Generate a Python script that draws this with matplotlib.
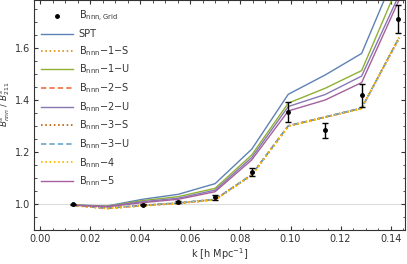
import numpy as np
import matplotlib
matplotlib.use("Agg")
import matplotlib.pyplot as plt
from matplotlib.ticker import MultipleLocator
from matplotlib.lines import Line2D

# k bins used for the model curves
k_lines = [0.0133, 0.0266, 0.0410, 0.0552, 0.0699, 0.0845, 0.0991, 0.1138, 0.1284, 0.1434]

# model ratios B^s_nnn / B^s_211
spt = [0.996, 0.992, 1.018, 1.037, 1.078, 1.210, 1.421, 1.495, 1.578, 1.920]
b1u = [0.996, 0.991, 1.013, 1.028, 1.060, 1.188, 1.387, 1.444, 1.512, 1.850]
b2u = [0.996, 0.990, 1.009, 1.022, 1.053, 1.178, 1.374, 1.420, 1.491, 1.804]
b5 = [0.995, 0.989, 1.005, 1.018, 1.047, 1.169, 1.357, 1.399, 1.466, 1.785]
b1s = [0.995, 0.983, 0.994, 1.003, 1.017, 1.111, 1.299, 1.333, 1.367, 1.638]
b2s = [0.995, 0.983, 0.994, 1.003, 1.017, 1.112, 1.300, 1.333, 1.368, 1.639]
b3s = [0.995, 0.983, 0.994, 1.003, 1.017, 1.111, 1.299, 1.333, 1.367, 1.638]
b3u = [0.995, 0.984, 0.995, 1.004, 1.018, 1.112, 1.300, 1.334, 1.368, 1.640]
b4 = [0.995, 0.983, 0.993, 1.002, 1.016, 1.110, 1.298, 1.332, 1.366, 1.637]

# grid measurement with error bars
k_grid = [0.0133, 0.0410, 0.0552, 0.0699, 0.0845, 0.0991, 0.1138, 0.1284, 0.1428]
grid_val = [0.998, 0.997, 1.007, 1.026, 1.122, 1.353, 1.283, 1.417, 1.710]
grid_err = [0.002, 0.002, 0.003, 0.009, 0.015, 0.040, 0.028, 0.044, 0.055]

plt.rcParams["font.family"] = "DejaVu Sans"
plt.rcParams["mathtext.fontset"] = "dejavusans"

fig = plt.figure(figsize=(4.07, 2.64), dpi=100)
ax = fig.add_axes([34 / 407, 34 / 264, 371 / 407, 230 / 264])

ax.axhline(1.0, color="#dddddd", lw=0.8, zorder=0)

dot = (0, (0.8, 1.4))
dash = (0, (3.5, 2))
lw = 1.0
ax.errorbar(k_grid, grid_val, yerr=grid_err, fmt="o", ms=2.5, color="black",
            ecolor="black", elinewidth=1.0, capsize=2, capthick=1.0, zorder=5)
ax.plot(k_lines, spt, color="#5E81B5", lw=lw, label="SPT")
ax.plot(k_lines, b1s, color="#E19C24", lw=1.4, ls=dot, label=r"B$_{\rm nnn}$−1−S")
ax.plot(k_lines, b1u, color="#8FB032", lw=lw, label=r"B$_{\rm nnn}$−1−U")
ax.plot(k_lines, b2s, color="#EB6235", lw=1.1, ls=dash, label=r"B$_{\rm nnn}$−2−S")
ax.plot(k_lines, b2u, color="#8778B3", lw=lw, label=r"B$_{\rm nnn}$−2−U")
ax.plot(k_lines, b3s, color="#C56E1A", lw=1.4, ls=dot, label=r"B$_{\rm nnn}$−3−S")
ax.plot(k_lines, b3u, color="#5D9EC7", lw=1.1, ls=dash, label=r"B$_{\rm nnn}$−3−U")
ax.plot(k_lines, b4, color="#FFBF00", lw=1.4, ls=dot, label=r"B$_{\rm nnn}$−4")
ax.plot(k_lines, b5, color="#A5609D", lw=lw, label=r"B$_{\rm nnn}$−5")

ax.set_xlim(-0.0024, 0.1457)
ax.set_ylim(0.90, 1.783)

ax.xaxis.set_major_locator(MultipleLocator(0.02))
ax.xaxis.set_minor_locator(MultipleLocator(0.005))
ax.yaxis.set_major_locator(MultipleLocator(0.2))
ax.yaxis.set_minor_locator(MultipleLocator(0.05))
ax.xaxis.set_major_formatter(plt.FuncFormatter(lambda v, p: f"{v:.2f}"))
ax.yaxis.set_major_formatter(plt.FuncFormatter(lambda v, p: f"{v:.1f}"))
ax.tick_params(which="both", direction="in", top=True, right=True,
               labelsize=7, colors="#333333", pad=3)
ax.tick_params(which="major", length=3, width=0.8)
ax.tick_params(which="minor", length=1.8, width=0.6)
for s in ax.spines.values():
    s.set_color("#333333")
    s.set_linewidth(0.8)

ax.set_xlabel(r"k [h Mpc$^{-1}$]", fontsize=7, color="#333333")
ax.xaxis.set_label_coords(0.5, -0.07)
ax.set_ylabel(r"$B^{s}_{nnn}$ / $B^{s}_{211}$", fontsize=6.3, color="#333333")
ax.yaxis.set_label_coords(-0.059, 0.546)

# grid point goes first in the legend, marker only
handles, labels = ax.get_legend_handles_labels()
grid_h = Line2D([], [], ls="none", marker="o", ms=2.5, color="black")
handles = [grid_h] + handles
labels = [r"B$_{\rm nnn,Grid}$"] + labels
leg = ax.legend(handles, labels, loc="upper left", fontsize=7, frameon=False,
                handlelength=3.3, labelspacing=0.5, borderaxespad=0.3,
                handletextpad=0.6, bbox_to_anchor=(0.0, 0.99))
for t in leg.get_texts():
    t.set_color("#333333")

fig.savefig("out.png", dpi=100)
